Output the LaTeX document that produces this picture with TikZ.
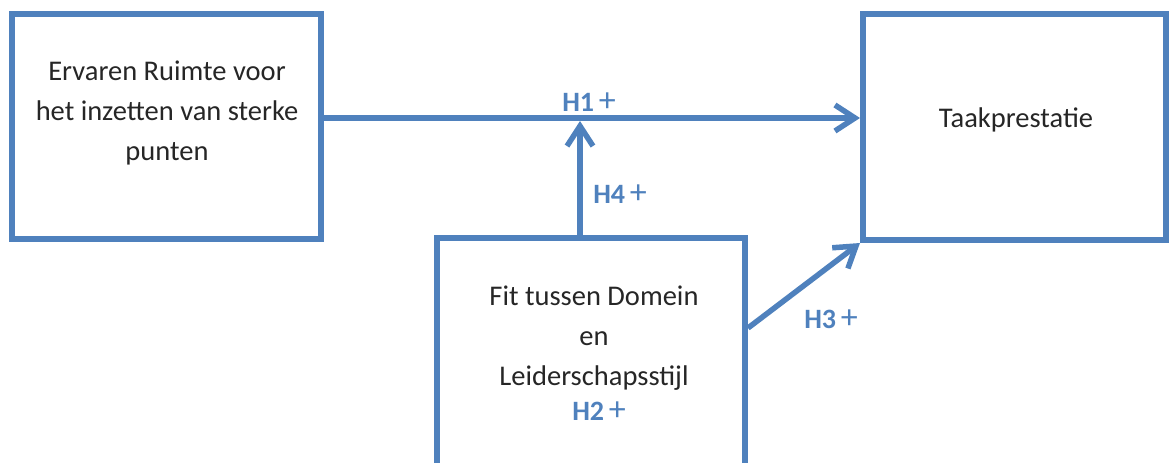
\documentclass[tikz,border=0pt]{standalone}
\usepackage{fontspec}
\setmainfont{Carlito}
\usetikzlibrary{arrows.meta}
\definecolor{officeblue}{RGB}{79,129,189}
\newcommand{\plussign}{\,{\mdseries\fontsize{34}{34}\selectfont+}}
\begin{document}
\begin{tikzpicture}[x=1pt, y=1pt,
		box/.style={draw=officeblue, line width=6pt, inner sep=0pt},
		txt/.style={align=center, text=black!85, font=\fontsize{28.5}{40}\selectfont},
		hyp/.style={text=officeblue, font=\fontsize{28}{30}\selectfont\bfseries},
		link/.style={draw=officeblue, line width=5.5pt, -{Straight Barb[length=20pt,width=26pt]}},
	]
	\path[use as bounding box, clip] (0,0) rectangle (1171,463);

	\node[box, minimum width=309pt, minimum height=225pt] (ruimte) at (166.5,336.5) {};
	\node[box, minimum width=303pt, minimum height=226pt] (taak) at (1014.5,336) {};
	\node[box, minimum width=308pt, minimum height=240pt] (fit) at (591,105) {};
	%
	\node[txt] (ruimteTxt) at (167,350) {Ervaren Ruimte voor\\het inzetten van sterke\\punten};
	\node[txt] (taakTxt) at (1016,343) {Taakprestatie};
	\node[txt] (fitTxt) at (594,125) {Fit tussen Domein\\en\\Leiderschapsstijl};
	%
	\coordinate (join) at (580,342);
	\draw[link] ([yshift=8.5pt]ruimte.east) -- ([yshift=9pt]taak.west);
	\draw[link] (fit.north -| join) -- (join);
	\draw[link] ([yshift=30pt]fit.east) -- (taak.south west);
	%
	\node[hyp] (h1) at (589,361) {H1\plussign};
	\node[hyp] (h2) at (599,52) {H2\plussign};
	\node[hyp] (h3) at (831,144) {H3\plussign};
	\node[hyp] (h4) at (620,269) {H4\plussign};
\end{tikzpicture}
\end{document}
